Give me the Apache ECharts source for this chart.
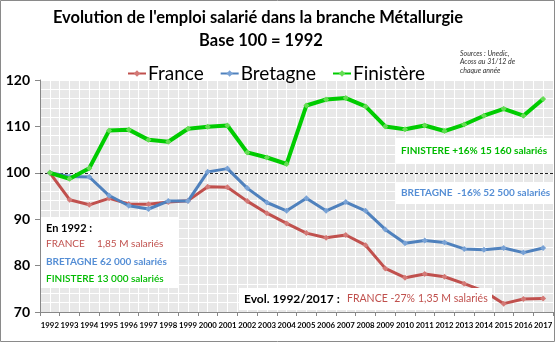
<!DOCTYPE html>
<html><head><meta charset="utf-8">
<script src="https://cdn.jsdelivr.net/npm/echarts@6/dist/echarts.min.js"></script>
<style>html,body{margin:0;padding:0;background:#fff}#c{width:557px;height:344px}</style>
</head><body><div id="c"></div>
<script>
const years = ['1992','1993','1994','1995','1996','1997','1998','1999','2000','2001','2002','2003','2004','2005','2006','2007','2008','2009','2010','2011','2012','2013','2014','2015','2016','2017'];
const france = [100,94.2,93.1,94.5,93.3,93.2,93.7,94.0,97.0,96.9,93.9,91.3,89.1,87.0,86.0,86.6,84.4,79.4,77.4,78.2,77.6,76.1,74.5,71.8,72.8,72.9];
const bretagne = [100,99.2,99.1,95.1,92.9,92.2,93.9,93.9,100.2,100.9,96.7,93.6,91.8,94.5,91.8,93.7,91.8,87.8,84.8,85.4,85.0,83.6,83.4,83.8,82.8,83.8];
const finistere = [100,98.7,101.0,109.1,109.3,107.1,106.7,109.5,109.9,110.2,104.4,103.3,101.9,114.5,115.8,116.1,114.3,110.0,109.4,110.2,109.0,110.4,112.3,113.8,112.3,115.9];
const seriesNames = ['France','Bretagne','Finistère'];
const yTicks = [70,80,90,100,110,120];

const FONT = 'Lato';
const RED = '#c0504d', BLUE = '#4f81bd', GREEN = '#00cc00';
const chart = echarts.init(document.getElementById('c'), null, {renderer:'canvas'});

function box(x,y,w,h,texts){
  return {type:'group', z:50, children:[
    {type:'rect', shape:{x:x,y:y,width:w,height:h}, style:{fill:'#fff'}, z:50},
    ...texts.map(t=>({type:'text', z:51, x:t.x, y:t.y, style:{text:t.s, fill:t.c, font:(t.w||'bold')+' '+(t.f||10)+'px '+FONT, textVerticalAlign:'middle'}}))
  ]};
}

chart.setOption({
  animation:false,
  backgroundColor:'#fff',
  legend:{data:seriesNames, left:122, top:59, itemWidth:18, itemHeight:8, itemGap:16,
    textStyle:{fontFamily:FONT, fontSize:19, color:'#000', padding:[0,0,0,-3]}},
  grid:{left:40, right:4, top:80, bottom:32, show:true, backgroundColor:'#e8e8e8', borderWidth:0},
  xAxis:[{type:'category', data:years, boundaryGap:true,
    axisLine:{lineStyle:{color:'#888'}}, axisTick:{show:true, length:4, lineStyle:{color:'#888'}, interval:0},
    axisLabel:{interval:0, fontFamily:FONT, fontSize:7.8, fontWeight:'bold', color:'#000', margin:9},
    splitLine:{show:false}, z:3},
   {type:'value', min:0, max:52, interval:1, show:true, position:'top',
    axisLine:{show:false}, axisTick:{show:false}, axisLabel:{show:false},
    splitLine:{show:true, lineStyle:{color:'#ffffff', width:1}}}],
  yAxis:{type:'value', min:yTicks[0], max:yTicks[yTicks.length-1], interval:10,
    axisLine:{show:true, lineStyle:{color:'#888'}}, axisTick:{show:true, length:5, lineStyle:{color:'#888'}},
    axisLabel:{fontFamily:FONT, fontSize:14, fontWeight:'bold', color:'#000', margin:10},
    splitLine:{show:true, lineStyle:{color:'#fff', width:1}},
    minorTick:{show:false, splitNumber:5},
    minorSplitLine:{show:true, lineStyle:{color:'#fff', width:1}}},
  series:[
    {name:'France', type:'line', data:france, xAxisIndex:0, lineStyle:{color:RED, width:3}, itemStyle:{color:'#d47a77'},
     symbol:'diamond', symbolSize:6, showSymbol:true, z:5,
     markLine:{silent:true, symbol:'none', label:{show:false}, lineStyle:{color:'#222', type:[3,2], width:1}, data:[{yAxis:100}]}},
    {name:'Bretagne', type:'line', data:bretagne, xAxisIndex:0, lineStyle:{color:BLUE, width:3}, itemStyle:{color:'#7aa3d6'},
     symbol:'diamond', symbolSize:6, z:6},
    {name:'Finistère', type:'line', data:finistere, xAxisIndex:0, lineStyle:{color:GREEN, width:4}, itemStyle:{color:'#66dd55'},
     symbol:'diamond', symbolSize:6, z:7}
  ],
  graphic:[
    {type:'rect', z:100, shape:{x:0.5,y:0.5,width:554,height:341}, style:{fill:null, stroke:'#8a8a8a', lineWidth:1}},
    {type:'text', z:60, x:258, y:18, style:{text:"Evolution de l'emploi salarié dans la branche Métallurgie", fill:'#000', font:'bold 16.5px '+FONT, textAlign:'center', textVerticalAlign:'middle'}},
    {type:'text', z:60, x:261, y:41, style:{text:'Base 100 = 1992', fill:'#000', font:'bold 16.5px '+FONT, textAlign:'center', textVerticalAlign:'middle'}},
    {type:'text', z:60, x:460, y:49, style:{text:'Sources : Unedic,\nAcoss au 31/12 de\nchaque année', fill:'#333', font:'italic 7px '+FONT, lineHeight:8.5}},
    box(395,138,158,25,[{x:401,y:150.5,s:'FINISTERE +16% 15 160 salariés',c:'#00bb00'}]),
    box(395,182,158,22,[{x:401,y:192.5,s:'BRETAGNE  -16% 52 500 salariés',c:'#558ed5'}]),
    box(41,217,137,71,[
      {x:46,y:228,s:'En 1992 :',c:'#000',f:11},
      {x:46,y:244,s:'FRANCE',c:RED,w:'normal'},
      {x:97,y:244,s:'1,85 M salariés',c:RED,w:'normal'},
      {x:46,y:262,s:'BRETAGNE 62 000 salariés',c:'#558ed5'},
      {x:46,y:279,s:'FINISTERE',c:'#00bb00',w:'600'},
      {x:97,y:279,s:'13 000 salariés',c:'#00bb00',w:'600'}]),
    box(239,288,253,22,[
      {x:244,y:299,s:'Evol. 1992/2017 :',c:'#000',f:12},
      {x:347,y:299,s:'FRANCE -27%',c:RED,w:'normal',f:10.5},
      {x:418,y:299,s:'1,35 M salariés',c:RED,w:'normal',f:10.5}])
  ]
});
</script></body></html>
